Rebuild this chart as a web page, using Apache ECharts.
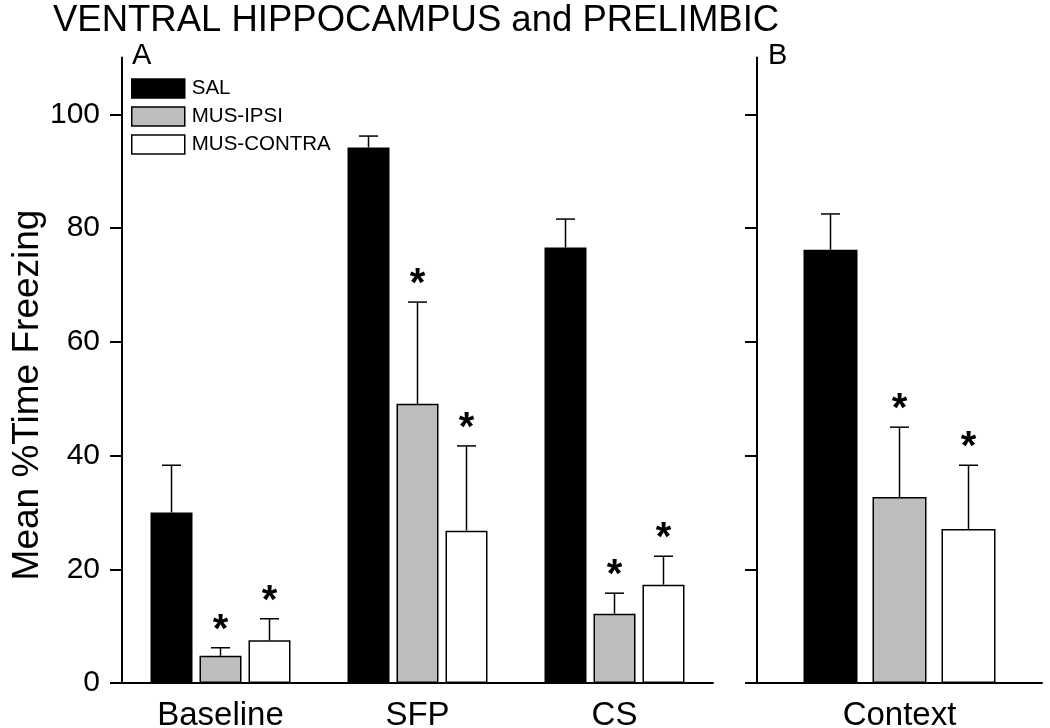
<!DOCTYPE html>
<html>
<head>
<meta charset="utf-8">
<script src="https://cdn.jsdelivr.net/npm/echarts@6/dist/echarts.min.js"></script>
<style>html,body{margin:0;padding:0;background:#fff}#c{width:1050px;height:728px}</style>
</head>
<body>
<div id="c"></div>
<script>
// ---- data ----
const categoriesA = ['Baseline', 'SFP', 'CS'];
const categoriesB = ['Context'];
const seriesNames = ['SAL', 'MUS-IPSI', 'MUS-CONTRA'];
const salA = [30.0, 94.2, 76.6];
const ipsiA = [4.8, 49.1, 12.2];
const contraA = [7.5, 26.8, 17.3];
const salErrA = [8.3, 2.0, 5.0];
const ipsiErrA = [1.4, 17.9, 3.6];
const contraErrA = [3.8, 14.9, 5.0];
const salSigA = [0, 0, 0];
const ipsiSigA = [1, 1, 1];
const contraSigA = [1, 1, 1];
const salB = [76.2];
const ipsiB = [32.7];
const contraB = [27.1];
const salErrB = [6.3];
const ipsiErrB = [12.3];
const contraErrB = [11.2];
const salSigB = [0];
const ipsiSigB = [1];
const contraSigB = [1];
const yTicks = [0, 20, 40, 60, 80, 100];
const yName = 'Mean %Time Freezing';

// ---- styles ----
const FONT = 'Liberation Sans, Arial, Helvetica, sans-serif';
const fills = ['#000000', '#bebebe', '#ffffff'];
const panelBar = [{ w: 42, gap: 7 }, { w: 54, gap: 15 }];

const chart = echarts.init(document.getElementById('c'), null, { renderer: 'canvas' });

function barSeries(name, data, idx, panel) {
  const p = panelBar[panel];
  return {
    type: 'bar', name: name, data: data,
    xAxisIndex: panel, yAxisIndex: panel,
    barWidth: p.w, barGap: (p.gap / p.w * 100) + '%',
    itemStyle: { color: fills[idx], borderColor: '#000', borderWidth: idx === 0 ? 0 : 1.5 },
    z: 2, silent: true
  };
}

function errSeries(means, errs, sigs, idx, panel) {
  const p = panelBar[panel];
  const off = (idx - 1) * (p.w + p.gap);
  return {
    type: 'custom', xAxisIndex: panel, yAxisIndex: panel, z: 5, silent: true,
    data: means.map((m, i) => [i, m, errs[i], sigs[i]]),
    encode: { x: 0, y: 1 },
    renderItem: function (params, api) {
      const ci = api.value(0), m = api.value(1), e = api.value(2), s = api.value(3);
      const b = api.coord([ci, m]);
      const t = api.coord([ci, m + e]);
      const x = b[0] + off;
      const children = [
        { type: 'line', shape: { x1: x, y1: b[1], x2: x, y2: t[1] }, style: { stroke: '#000', lineWidth: 1.5 } },
        { type: 'line', shape: { x1: x - 9.5, y1: t[1], x2: x + 9.5, y2: t[1] }, style: { stroke: '#000', lineWidth: 1.5 } }
      ];
      if (s) {
        children.push({ type: 'text', style: { text: '*', x: x, y: t[1] - 17, align: 'center', verticalAlign: 'middle',
          fontSize: 40, fontWeight: 'bold', fontFamily: FONT, fill: '#000' } });
      }
      return { type: 'group', children: children };
    }
  };
}

const gridTop = 57.6, gridBottom = 45;
function yAxis(panel) {
  return {
    type: 'value', gridIndex: panel, min: 0, max: 110,
    axisLine: { show: true, lineStyle: { color: '#000', width: 2 } },
    axisTick: { show: true, inside: false, length: 12, customValues: yTicks, lineStyle: { color: '#000', width: 2 } },
    axisLabel: { show: panel === 0, customValues: yTicks, margin: 22, fontSize: 30, color: '#000', fontFamily: FONT },
    splitLine: { show: false }
  };
}
function xAxis(panel, cats) {
  return {
    type: 'category', gridIndex: panel, data: cats,
    axisLine: { show: true, lineStyle: { color: '#000', width: 2 } },
    axisTick: { show: false },
    axisLabel: { fontSize: 33, color: '#000', margin: 16, fontFamily: FONT }
  };
}

const option = {
  backgroundColor: '#fff',
  animation: false,
  title: [
    { text: 'VENTRAL HIPPOCAMPUS and PRELIMBIC', left: 53, top: 2, padding: 0,
      textStyle: { fontSize: 36.5, fontWeight: 'normal', color: '#000', fontFamily: FONT } },
    { text: 'A', left: 132, top: 41, padding: 0, textStyle: { fontSize: 29, fontWeight: 'normal', color: '#000', fontFamily: FONT } },
    { text: 'B', left: 768, top: 41, padding: 0, textStyle: { fontSize: 29, fontWeight: 'normal', color: '#000', fontFamily: FONT } }
  ],
  legend: {
    orient: 'vertical', left: 131, top: 78, padding: 0, itemWidth: 53, itemHeight: 19, itemGap: 7,
    icon: 'rect', selectedMode: false,
    textStyle: { fontSize: 20.5, color: '#000', fontFamily: FONT, padding: [0, 0, 0, 2] },
    data: seriesNames.map((n, i) => ({ name: n, itemStyle: { color: fills[i], borderColor: '#000', borderWidth: 1.5 } }))
  },
  grid: [
    { left: 122, right: 337, top: gridTop, bottom: gridBottom, outerBoundsMode: 'none', containLabel: false },
    { left: 757, right: 8, top: gridTop, bottom: gridBottom, outerBoundsMode: 'none', containLabel: false }
  ],
  graphic: [
    { type: 'text', x: 28, y: 395, rotation: Math.PI / 2, silent: true,
      style: { text: yName, align: 'center', verticalAlign: 'middle', fontSize: 37, fill: '#000', fontFamily: FONT } }
  ],
  xAxis: [xAxis(0, categoriesA), xAxis(1, categoriesB)],
  yAxis: [yAxis(0), yAxis(1)],
  series: [
    barSeries(seriesNames[0], salA, 0, 0),
    barSeries(seriesNames[1], ipsiA, 1, 0),
    barSeries(seriesNames[2], contraA, 2, 0),
    barSeries(seriesNames[0], salB, 0, 1),
    barSeries(seriesNames[1], ipsiB, 1, 1),
    barSeries(seriesNames[2], contraB, 2, 1),
    errSeries(salA, salErrA, salSigA, 0, 0),
    errSeries(ipsiA, ipsiErrA, ipsiSigA, 1, 0),
    errSeries(contraA, contraErrA, contraSigA, 2, 0),
    errSeries(salB, salErrB, salSigB, 0, 1),
    errSeries(ipsiB, ipsiErrB, ipsiSigB, 1, 1),
    errSeries(contraB, contraErrB, contraSigB, 2, 1)
  ]
};
chart.setOption(option);
</script>
</body>
</html>
